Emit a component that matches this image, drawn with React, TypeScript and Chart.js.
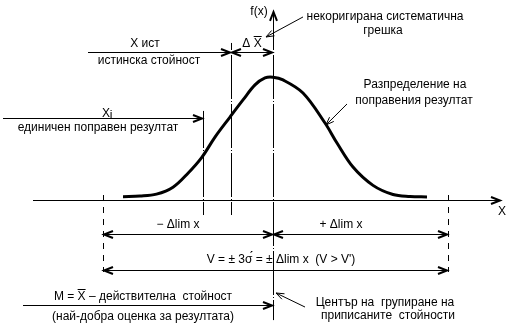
import React, { useEffect, useRef } from "react";
import { Chart, registerables } from "chart.js";

Chart.register(...registerables);

// Normal distribution curve, x in sigma-units around the mean, y relative to the peak
const curveX = [-3.0, -2.66, -2.33, -2.0, -1.7, -1.42, -1.16, -0.86, -0.6, -0.36, -0.16, 0, 0.2, 0.6, 1.04, 1.28, 1.6, 2.0, 2.4, 2.74, 3.08];
const curveY = [0.027, 0.032, 0.048, 0.105, 0.22, 0.352, 0.516, 0.68, 0.82, 0.943, 1.0, 1.006, 0.984, 0.877, 0.631, 0.467, 0.27, 0.12, 0.045, 0.029, 0.025];

// Key abscissae
const meanX = 0;
const trueX = -0.84;
const singleX = -1.4;
const limitLowX = -3.4;
const limitHighX = 3.5;

// Axis extents
const xAxisFrom = -4.8;
const xAxisTo = 4.54;
const yAxisFrom = -0.984;
const yAxisTo = 1.541;

// Vertical marker lines: [x, yBottom, yTop]
const centerLine = [meanX, yAxisFrom, yAxisTo];
const trueLine = [trueX, -0.123, 1.287];
const singleLine = [singleX, -0.123, 0.73];
const limitLines = [
  [limitLowX, 0.041, -0.59],
  [limitHighX, 0.041, -0.59],
];

// Dimension lines: [y, from, to, arrowAtFrom, arrowAtTo]
const dimLines: [number, number, number, boolean, boolean][] = [
  [1.213, -3.7, trueX, false, true],
  [1.213, trueX, meanX, true, true],
  [0.672, -5.4, singleX, false, true],
  [-0.279, limitLowX, meanX, true, true],
  [-0.279, meanX, limitHighX, true, true],
  [-0.574, limitLowX, limitHighX, true, true],
  [-0.861, -5.0, meanX, false, true],
];

// Leader lines: [fromX, fromY, tipX, tipY]
const leaders = [
  [0.6, 1.5, -0.14, 1.336],
  [1.48, 0.787, 1.06, 0.615],
  [0.64, -0.877, 0.06, -0.762],
];

// Text labels: [text, x, y]  (U+0304 = overline on previous letter)
const labels: [string, number, number][] = [
  ["f(x)", -0.28, 1.54],
  ["некоригирана систематична", 2.24, 1.5],
  ["грешка", 2.2, 1.385],
  ["X ист", -2.56, 1.279],
  ["истинска стойност", -2.48, 1.139],
  ["Δ X\u0304", -0.42, 1.279],
  ["Разпределение на", 2.84, 0.943],
  ["поправения резултат", 2.82, 0.811],
  ["X", -3.34, 0.705],
  ["единичен поправен резултат", -3.5, 0.59],
  ["− Δlim x", -1.9, -0.205],
  ["+ Δlim x", 1.36, -0.205],
  ["V = ± 3σ\u0301 = ± Δlim x  (V > V')", 0.16, -0.492],
  ["M = X\u0304 – действителна  стойност", -2.6, -0.795],
  ["(най-добра оценка за резултата)", -2.6, -0.959],
  ["Център на  групиране на", 2.24, -0.844],
  ["приписаните  стойности", 2.3, -0.951],
  ["X", 4.58, -0.098],
];
const subLabels: [string, number, number][] = [["i", -3.24, 0.69]];

const FONT = "12px 'Liberation Sans', Arial, sans-serif";

function arrowHead(ctx: CanvasRenderingContext2D, tx: number, ty: number, fx: number, fy: number, len: number, half: number, lw: number) {
  const a = Math.atan2(ty - fy, tx - fx);
  const c = Math.cos(a), s = Math.sin(a);
  ctx.lineWidth = lw;
  ctx.setLineDash([]);
  ctx.beginPath();
  ctx.moveTo(tx - len * c + half * s, ty - len * s - half * c);
  ctx.lineTo(tx, ty);
  ctx.lineTo(tx - len * c - half * s, ty - len * s + half * c);
  ctx.stroke();
}

function drawLabel(ctx: CanvasRenderingContext2D, text: string, cx: number, cy: number) {
  const chars: { ch: string; bar: boolean }[] = [];
  for (const ch of Array.from(text)) {
    if (ch === "\u0304" && chars.length) chars[chars.length - 1].bar = true;
    else chars.push({ ch, bar: false });
  }
  const plain = chars.map((c) => c.ch).join("");
  const w = ctx.measureText(plain).width;
  const x0 = cx - w / 2;
  ctx.textAlign = "left";
  ctx.textBaseline = "middle";
  ctx.fillText(plain, x0, cy);
  let prefix = "";
  for (const c of chars) {
    if (c.bar) {
      const px = x0 + ctx.measureText(prefix).width;
      const cw = ctx.measureText(c.ch).width;
      ctx.lineWidth = 1;
      ctx.setLineDash([]);
      ctx.beginPath();
      ctx.moveTo(px, Math.round(cy - 8) + 0.5);
      ctx.lineTo(px + cw, Math.round(cy - 8) + 0.5);
      ctx.stroke();
    }
    prefix += c.ch;
  }
}

const diagramPlugin = {
  id: "diagram",
  afterDatasetsDraw(chart: any) {
    const { ctx, scales } = chart;
    const X = (v: number) => scales.x.getPixelForValue(v);
    const Y = (v: number) => scales.y.getPixelForValue(v);
    const c = (p: number) => Math.round(p) + 0.5;
    ctx.save();
    ctx.strokeStyle = "#000";
    ctx.fillStyle = "#000";
    ctx.lineCap = "butt";

    // x axis
    ctx.lineWidth = 1;
    ctx.setLineDash([]);
    ctx.beginPath();
    ctx.moveTo(X(xAxisFrom), c(Y(0)));
    ctx.lineTo(X(xAxisTo), c(Y(0)));
    ctx.stroke();
    arrowHead(ctx, X(xAxisTo), c(Y(0)), X(xAxisFrom), c(Y(0)), 9, 3.5, 2);

    // dash-dot vertical lines
    const dashDot = (l: number[]) => {
      const x = c(X(l[0]));
      const yb = Y(l[1]);
      const yt = Y(l[2]);
      ctx.lineWidth = 1;
      ctx.setLineDash([44, 2, 1, 2]);
      ctx.lineDashOffset = (((yt - 6) % 49) + 49) % 49;
      ctx.beginPath();
      ctx.moveTo(x, yt);
      ctx.lineTo(x, yb);
      ctx.stroke();
      ctx.setLineDash([]);
      ctx.lineDashOffset = 0;
    };
    dashDot(centerLine);
    arrowHead(ctx, c(X(centerLine[0])), Y(centerLine[2]), c(X(centerLine[0])), Y(centerLine[1]), 9, 3.5, 2);
    dashDot(trueLine);
    dashDot(singleLine);

    // dashed limit lines
    for (const l of limitLines) {
      const x = c(X(l[0]));
      ctx.lineWidth = 1;
      ctx.setLineDash([6, 6]);
      ctx.beginPath();
      ctx.moveTo(x, Y(l[1]));
      ctx.lineTo(x, Y(l[2]));
      ctx.stroke();
    }
    ctx.setLineDash([]);

    // dimension lines
    for (const [y, a, b, sa, sb] of dimLines) {
      const py = c(Y(y));
      const xa = X(a), xb = X(b);
      ctx.lineWidth = 1;
      ctx.setLineDash([]);
      ctx.beginPath();
      ctx.moveTo(xa, py);
      ctx.lineTo(xb, py);
      ctx.stroke();
      if (sa) arrowHead(ctx, xa + 1, py, xb, py, 9, 3.5, 2);
      if (sb) arrowHead(ctx, xb - 1, py, xa, py, 9, 3.5, 2);
    }

    // leader lines
    for (const [fx, fy, tx, ty] of leaders) {
      ctx.lineWidth = 1;
      ctx.beginPath();
      ctx.moveTo(X(fx), Y(fy));
      ctx.lineTo(X(tx), Y(ty));
      ctx.stroke();
      arrowHead(ctx, X(tx), Y(ty), X(fx), Y(fy), 8, 3, 1);
    }

    // labels
    ctx.font = FONT;
    for (const [t, x, y] of labels) drawLabel(ctx, t, X(x), Y(y));
    for (const [t, x, y] of subLabels) drawLabel(ctx, t, X(x), Y(y));
    ctx.restore();
  },
};

export default function App() {
  const ref = useRef<HTMLCanvasElement | null>(null);
  useEffect(() => {
    document.body.style.margin = "0";
    const canvas = ref.current!;
    const chart = new Chart(canvas, {
      type: "line",
      data: {
        datasets: [
          {
            data: curveX.map((x, i) => ({ x, y: curveY[i] })),
            borderColor: "#000",
            borderWidth: 3,
            pointRadius: 0,
            fill: false,
            tension: 0.35,
            clip: false as any,
          },
        ],
      },
      options: {
        animation: false,
        responsive: false,
        devicePixelRatio: 1,
        layout: { padding: 0 },
        events: [],
        plugins: { legend: { display: false }, tooltip: { enabled: false } },
        scales: {
          x: { type: "linear", min: -5.46, max: 4.76, display: false },
          y: { type: "linear", min: -1.016, max: 1.639, display: false },
        },
      },
      plugins: [diagramPlugin],
    });
    return () => chart.destroy();
  }, []);
  return (
    <div style={{ position: "fixed", left: 0, top: 0, width: 511, height: 324, background: "#fff" }}>
      <canvas ref={ref} width={511} height={324} style={{ display: "block" }} />
    </div>
  );
}
